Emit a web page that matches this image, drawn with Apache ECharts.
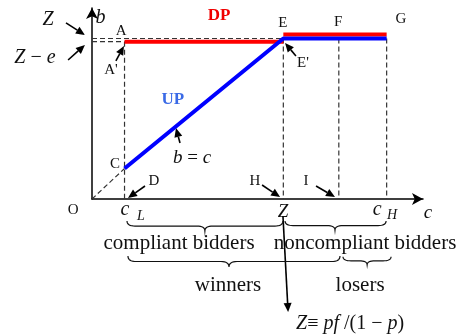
<!DOCTYPE html>
<html><head><meta charset="utf-8">
<script src="https://cdn.jsdelivr.net/npm/echarts@6/dist/echarts.min.js"></script>
<style>html,body{margin:0;padding:0;background:#fff}#c{width:462px;height:334px}</style>
</head><body><div id="c"></div>
<script>
// ---- data (Z = 10 units) ----
const xRange = [0, 17.3];
const yRange = [0, 11.9];
const upLine = [[1.7, 1.9], [10, 10], [15.4, 10]];
const dpLow = [[1.7, 9.8], [10, 9.8]];
const dpHigh = [[10, 10.25], [15.4, 10.25]];
const dashedSegs = [
  [[0, 0], [1.7, 1.9]],
  [[0, 10], [10, 10]],
  [[0, 9.8], [1.7, 9.8]],
  [[1.7, 9.8], [1.7, 0]],
  [[10, 10], [10, 0]],
  [[12.9, 10], [12.9, 0]],
  [[15.4, 10], [15.4, 0]]
];
const letterLabels = [
  ['A', [1.52, 10.47]], ["A'", [0.99, 8.04]], ['E', [9.98, 10.97]], ['F', [12.86, 11.03]],
  ['G', [16.15, 11.21]], ["E'", [11.03, 8.47]], ['C', [1.2, 2.18]], ['D', [3.24, 1.12]],
  ['H', [8.52, 1.12]], ['I', [11.19, 1.12]], ['O', [-0.99, -0.69]]
];
const mathLabels = [
  ['{i|Z}', [-2.3, 11.15], 20], ['{i|Z} − {i|e}', [-2.98, 8.79], 20], ['{i|b}', [0.45, 11.28], 20],
  ['{i|b} = {i|c}', [5.23, 2.55], 19], ['{i|c}', [1.72, -0.69], 20], ['{i|L}', [2.56, -1.06], 14],
  ['{i|Z}', [9.98, -0.81], 19], ['{i|c}', [14.9, -0.69], 20], ['{i|H}', [15.68, -1.0], 14],
  ['{i|c}', [17.56, -0.87], 19], ['{i|Z}≡ {i|pf} /(1 − {i|p})', [13.49, -7.79], 20]
];
const textLabels = [
  ['compliant bidders', [4.55, -2.8]], ['noncompliant bidders', [14.27, -2.8]],
  ['winners', [7.11, -5.36]], ['losers', [14.01, -5.36]]
];
const curveLabels = [['DP', [6.64, 11.4], '#f00000'], ['UP', [4.22, 6.17], '#3a6ae6']];
const arrows = [
  [[-1.36, 10.97], [-0.37, 10.22]], [[-1.25, 8.66], [-0.37, 9.6]], [[1.25, 8.6], [1.67, 9.53]],
  [[10.66, 8.91], [10.09, 9.72]], [[4.6, 3.49], [4.39, 4.42]], [[2.77, 0.81], [1.88, 0.06]],
  [[8.89, 0.87], [9.83, 0.12]], [[11.71, 0.81], [12.7, 0.12]], [[9.98, -1.06], [10.25, -7.04]]
];
// braces: x0, x1, xMid, yTop, yTip
const braces = [
  [1.83, 9.98, 5.9, -1.37, -2.0], [10.09, 15.37, 12.7, -1.37, -1.94],
  [1.88, 12.96, 7.16, -3.55, -4.24], [13.12, 15.63, 14.38, -3.6, -4.1]
];

const FONT = '"Liberation Serif", "Times New Roman", serif';
const chart = echarts.init(document.getElementById('c'), null, {renderer: 'canvas'});
const series = [];
dashedSegs.forEach(s => series.push({type: 'line', data: s, showSymbol: false, silent: true,
  lineStyle: {color: '#333', width: 1.2, type: [5, 3]}, z: 1}));
series.push({type: 'line', data: dpLow, showSymbol: false, lineStyle: {color: '#ff0000', width: 4}, z: 3});
series.push({type: 'line', data: dpHigh, showSymbol: false, lineStyle: {color: '#ff0000', width: 4}, z: 3});
series.push({type: 'line', data: upLine, showSymbol: false, lineStyle: {color: '#0000ff', width: 4}, z: 4});

const axisCommon = {type: 'value', axisTick: {show: false}, axisLabel: {show: false}, splitLine: {show: false},
  axisLine: {show: true, symbol: ['none', 'arrow'], symbolSize: [9, 11], lineStyle: {color: '#000', width: 1.5}}};
chart.setOption({
  animation: false,
  grid: {left: 92, right: 39, top: 8, bottom: 135},
  xAxis: Object.assign({min: xRange[0], max: xRange[1]}, axisCommon),
  yAxis: Object.assign({min: yRange[0], max: yRange[1]}, axisCommon),
  series: series
});

const P = d => chart.convertToPixel({gridIndex: 0}, d);
const g = [];
letterLabels.forEach(([t, d]) => { const p = P(d);
  g.push({type: 'text', x: p[0], y: p[1], style: {text: t, font: '15px ' + FONT, fill: '#111', align: 'center', verticalAlign: 'middle'}}); });
mathLabels.forEach(([t, d, fs]) => { const p = P(d);
  g.push({type: 'text', x: p[0], y: p[1], style: {text: t, fontSize: fs, fontFamily: FONT, fill: '#111', align: 'center', verticalAlign: 'middle',
    rich: {i: {fontStyle: 'italic', fontSize: fs, fontFamily: FONT, fill: '#111'}}}}); });
textLabels.forEach(([t, d]) => { const p = P(d);
  g.push({type: 'text', x: p[0], y: p[1], style: {text: t, font: '21px ' + FONT, fill: '#111', align: 'center', verticalAlign: 'middle'}}); });
curveLabels.forEach(([t, d, c]) => { const p = P(d);
  g.push({type: 'text', x: p[0], y: p[1], style: {text: t, font: 'bold 17px ' + FONT, fill: c, align: 'center', verticalAlign: 'middle'}}); });
arrows.forEach(([a, b]) => { const pa = P(a), pb = P(b);
  const dx = pb[0] - pa[0], dy = pb[1] - pa[1], L = Math.hypot(dx, dy), ux = dx / L, uy = dy / L;
  const hl = 9, hw = 4;
  const bx = pb[0] - ux * hl, by = pb[1] - uy * hl;
  g.push({type: 'line', shape: {x1: pa[0], y1: pa[1], x2: bx, y2: by}, style: {stroke: '#000', lineWidth: 1.6}});
  g.push({type: 'polygon', shape: {points: [[pb[0], pb[1]], [bx - uy * hw, by + ux * hw], [bx + uy * hw, by - ux * hw]]}, style: {fill: '#000'}});
});
function quad(p0, c, p1, n) {
  const out = [];
  for (let k = 0; k <= n; k++) { const t = k / n, s = 1 - t;
    out.push([s * s * p0[0] + 2 * s * t * c[0] + t * t * p1[0], s * s * p0[1] + 2 * s * t * c[1] + t * t * p1[1]]); }
  return out;
}
braces.forEach(([x0, x1, xm, yt, yp]) => {
  const a = P([x0, yt]), b = P([x1, yt]), m = P([xm, yp]);
  const y0 = a[1], y2 = m[1], yh = (y0 + y2) / 2, r = Math.min(8, (b[0] - a[0]) / 4);
  const pts = [].concat(
    quad([a[0], y0], [a[0], yh], [a[0] + r, yh], 8),
    quad([m[0] - r, yh], [m[0], yh], [m[0], y2], 8),
    quad([m[0], y2], [m[0], yh], [m[0] + r, yh], 8),
    quad([b[0] - r, yh], [b[0], yh], [b[0], y0], 8));
  g.push({type: 'polyline', shape: {points: pts}, style: {stroke: '#111', lineWidth: 1.2, fill: null}});
});
chart.setOption({graphic: g});
</script></body></html>
